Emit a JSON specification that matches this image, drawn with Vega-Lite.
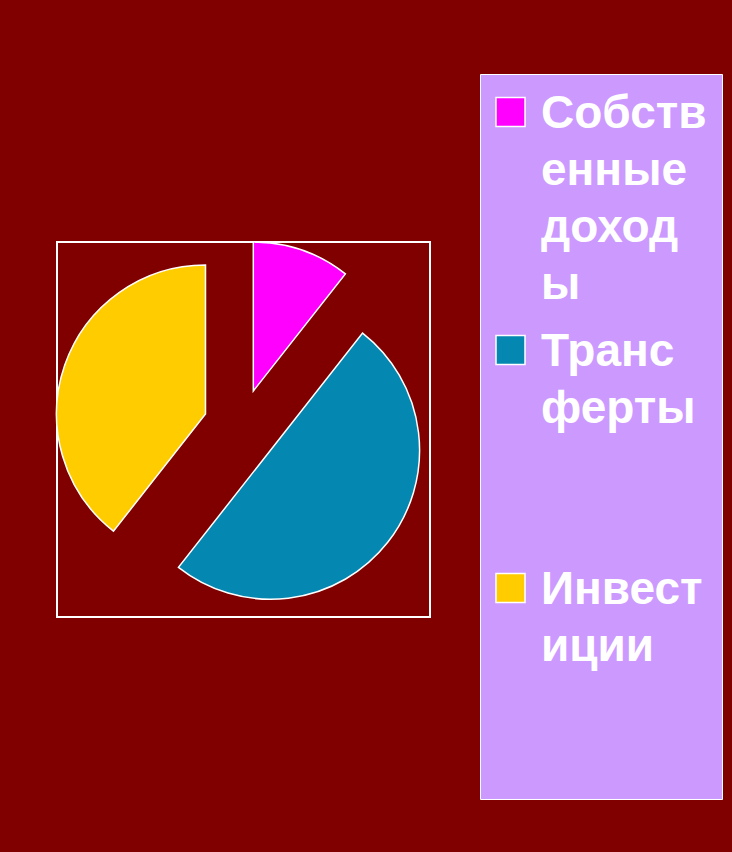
{
  "$schema": "https://vega.github.io/schema/vega-lite/v6.json",
  "width": 373,
  "height": 375,
  "autosize": {"type": "none"},
  "padding": {"left": 57, "top": 242, "right": 302, "bottom": 235},
  "background": "#800000",
  "view": {"stroke": "white", "strokeWidth": 2},
  "config": {
    "view": {"stroke": "white", "strokeWidth": 2},
    "font": "Liberation Sans"
  },
  "data": {
    "values": [
      {"k": "Собственные доходы", "v": 10.6, "o": 1},
      {"k": "Трансферты", "v": 50.0, "o": 2},
      {"k": "Инвестиции", "v": 39.4, "o": 3}
    ]
  },
  "transform": [
    {"stack": "v", "groupby": [], "sort": [{"field": "o", "order": "ascending"}], "as": ["t0", "t1"]}
  ],
  "encoding": {
    "theta": {"field": "t0", "type": "quantitative", "scale": {"domain": [0, 100]}},
    "theta2": {"field": "t1"},
    "color": {
      "field": "k",
      "type": "nominal",
      "scale": {
        "domain": ["Собственные доходы", "Трансферты", "Инвестиции"],
        "range": ["#FF00FF", "#0487B0", "#FFCC00"]
      },
      "legend": {
        "title": null,
        "orient": "none",
        "legendX": 423,
        "legendY": -168,
        "fillColor": "#CC99FF",
        "strokeColor": "white",
        "padding": 15,
        "symbolType": "square",
        "symbolSize": 841,
        "symbolStrokeColor": "white",
        "symbolStrokeWidth": 1.5,
        "symbolOpacity": 1,
        "symbolOffset": -7.5,
        "labelFont": "Liberation Sans",
        "labelFontWeight": "bold",
        "labelFontSize": 46,
        "labelColor": "white",
        "labelLimit": 400,
        "labelBaseline": "top",
        "labelOffset": 7.5,
        "rowPadding": 19,
        "labelExpr": "datum.label == 'Собственные доходы' ? ['Собств','енные','доход','ы'] : datum.label == 'Трансферты' ? ['Транс','ферты',' ',' '] : ['Инвест','иции',' ',' ']",
        "encode": {"labels": {"update": {"dy": {"value": -20}, "lineHeight": {"value": 57}}}}
      }
    }
  },
  "layer": [
    {
      "transform": [{"filter": "datum.k == 'Собственные доходы'"}],
      "mark": {"type": "arc", "outerRadius": 149, "stroke": "white", "strokeWidth": 1.5, "xOffset": 9.8, "yOffset": -38.5}
    },
    {
      "transform": [{"filter": "datum.k == 'Трансферты'"}],
      "mark": {"type": "arc", "outerRadius": 149, "stroke": "white", "strokeWidth": 1.5, "xOffset": 27, "yOffset": 20.7}
    },
    {
      "transform": [{"filter": "datum.k == 'Инвестиции'"}],
      "mark": {"type": "arc", "outerRadius": 149, "stroke": "white", "strokeWidth": 1.5, "xOffset": -38, "yOffset": -15.5}
    }
  ]
}
